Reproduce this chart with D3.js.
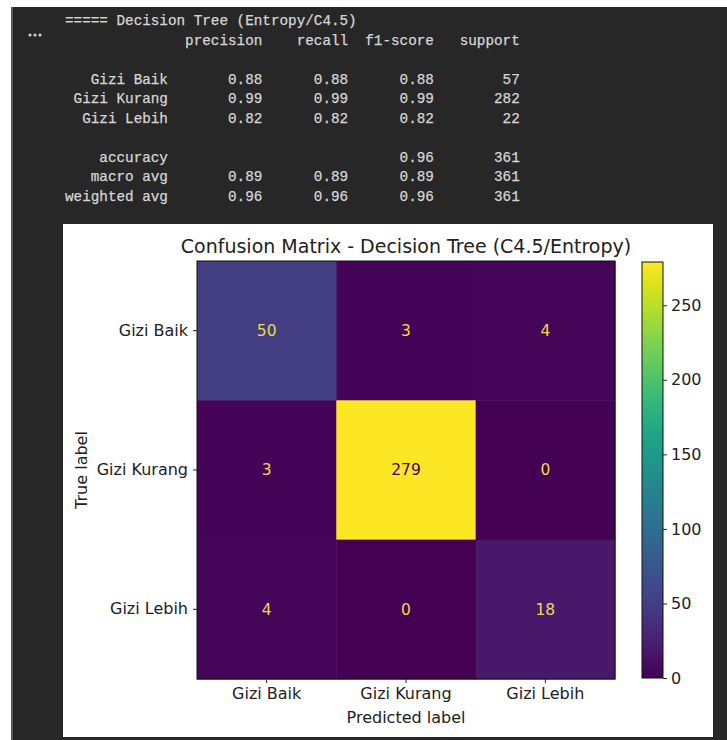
<!DOCTYPE html>
<html>
<head>
<meta charset="utf-8">
<script src="https://cdn.jsdelivr.net/npm/d3@7"></script>
<style>
  body { margin: 0; background: #fff; }
  .mono { font-family: "Liberation Mono", "DejaVu Sans Mono", monospace; white-space: pre; }
  .plt { font-family: "DejaVu Sans", sans-serif; }
</style>
</head>
<body>
<div id="chart"></div>
<script>
// report data
var reportTitle = "===== Decision Tree (Entropy/C4.5)";
var reportLabels = ["Gizi Baik", "Gizi Kurang", "Gizi Lebih"];
var precision = [0.88, 0.99, 0.82];
var recall = [0.88, 0.99, 0.82];
var f1 = [0.88, 0.99, 0.82];
var support = [57, 282, 22];
var accuracy = 0.96, totalSupport = 361;
var macroAvg = [0.89, 0.89, 0.89];
var weightedAvg = [0.96, 0.96, 0.96];

// confusion matrix data
var classes = ["Gizi Baik", "Gizi Kurang", "Gizi Lebih"];
var matrix = [[50, 3, 4], [3, 279, 0], [4, 0, 18]];
var cbTicks = [0, 50, 100, 150, 200, 250];

var W = 727, H = 740;
var svg = d3.select("#chart").append("svg")
  .attr("width", W).attr("height", H);

// notebook output background
svg.append("rect").attr("x", 12).attr("y", 7).attr("width", W - 12).attr("height", H - 7)
  .attr("fill", "#272727");
svg.append("line").attr("x1", 12).attr("x2", 12).attr("y1", 7).attr("y2", H)
  .attr("stroke", "#5a5a5a").attr("stroke-width", 2);

// the "..." marker
svg.append("g").selectAll("circle")
  .data([0, 1, 2]).enter().append("circle")
  .attr("cx", function(d) { return 30 + d * 5; })
  .attr("cy", 35)
  .attr("r", 1.6)
  .attr("fill", "#cfcfcf");

// build the text report like sklearn does
function f2(v) { return v.toFixed(2).padStart(9); }
var width = 12;
var lines = [];
lines.push(reportTitle);
lines.push("".padStart(width) + " " + [" precision", "    recall", "  f1-score", "   support"].join(""));
lines.push("");
reportLabels.forEach(function(l, i) {
  lines.push(l.padStart(width) + " " + " " + f2(precision[i]) + " " + f2(recall[i]) + " " + f2(f1[i]) + " " + String(support[i]).padStart(9));
});
lines.push("");
lines.push("accuracy".padStart(width) + " " + " " + "".padStart(9) + " " + "".padStart(9) + " " + f2(accuracy) + " " + String(totalSupport).padStart(9));
lines.push("macro avg".padStart(width) + " " + " " + f2(macroAvg[0]) + " " + f2(macroAvg[1]) + " " + f2(macroAvg[2]) + " " + String(totalSupport).padStart(9));
lines.push("weighted avg".padStart(width) + " " + " " + f2(weightedAvg[0]) + " " + f2(weightedAvg[1]) + " " + f2(weightedAvg[2]) + " " + String(totalSupport).padStart(9));

svg.append("g").selectAll("text")
  .data(lines).enter().append("text")
  .attr("class", "mono")
  .attr("x", 65)
  .attr("y", function(d, i) { return 25 + i * 19.5; })
  .attr("font-size", 14.3)
  .attr("fill", "#d6d6d6")
  .attr("stroke", "#d6d6d6")
  .attr("stroke-width", 0.25)
  .text(function(d) { return d; });

// white figure panel
svg.append("rect").attr("x", 63).attr("y", 224).attr("width", 650).attr("height", 513)
  .attr("fill", "#ffffff");

// heatmap
var x = d3.scaleBand().domain(classes).range([197, 615]);
var y = d3.scaleBand().domain(classes).range([261, 679]);
var vmax = d3.max(matrix, function(r) { return d3.max(r); });
var vmin = d3.min(matrix, function(r) { return d3.min(r); });
var color = d3.scaleSequential(d3.interpolateViridis).domain([vmin, vmax]);

var cells = [];
matrix.forEach(function(row, i) {
  row.forEach(function(v, j) { cells.push({ t: classes[i], p: classes[j], v: v }); });
});

var plt = svg.append("g").attr("class", "plt");

plt.selectAll("rect.cell")
  .data(cells).enter().append("rect")
  .attr("class", "cell")
  .attr("x", function(d) { return x(d.p); })
  .attr("y", function(d) { return y(d.t); })
  .attr("width", x.bandwidth() + 0.5)
  .attr("height", y.bandwidth() + 0.5)
  .attr("fill", function(d) { return color(d.v); });

var thresh = (vmax + vmin) / 2;
plt.selectAll("text.val")
  .data(cells).enter().append("text")
  .attr("class", "val")
  .attr("x", function(d) { return x(d.p) + x.bandwidth() / 2; })
  .attr("y", function(d) { return y(d.t) + y.bandwidth() / 2; })
  .attr("dy", "0.35em")
  .attr("text-anchor", "middle")
  .attr("font-size", 15.5)
  .attr("fill", function(d) { return d.v > thresh ? d3.interpolateViridis(0) : "#f2d84a"; })
  .text(function(d) { return d.v; });

plt.append("rect").attr("x", 197).attr("y", 261).attr("width", 418).attr("height", 418)
  .attr("fill", "none").attr("stroke", "#111").attr("stroke-width", 1);

var xAxis = plt.append("g").attr("transform", "translate(0,679)")
  .call(d3.axisBottom(x).tickSize(4).tickPadding(5));
var yAxis = plt.append("g").attr("transform", "translate(197,0)")
  .call(d3.axisLeft(y).tickSize(4).tickPadding(5));
[xAxis, yAxis].forEach(function(a) {
  a.select(".domain").remove();
  a.selectAll("text").attr("font-size", 16).attr("fill", "#222").attr("font-family", "DejaVu Sans, sans-serif");
  a.selectAll("line").attr("stroke", "#222");
});

plt.append("text").attr("x", 406).attr("y", 253).attr("text-anchor", "middle")
  .attr("font-size", 19).attr("fill", "#222")
  .text("Confusion Matrix - Decision Tree (C4.5/Entropy)");
plt.append("text").attr("x", 406).attr("y", 723).attr("text-anchor", "middle")
  .attr("font-size", 16).attr("fill", "#222").text("Predicted label");
plt.append("text").attr("transform", "translate(87,470) rotate(-90)").attr("text-anchor", "middle")
  .attr("font-size", 16).attr("fill", "#222").text("True label");

// colorbar
var cb = d3.scaleLinear().domain([vmin, vmax]).range([678, 262]);
var grad = svg.append("defs").append("linearGradient").attr("id", "vir")
  .attr("x1", 0).attr("y1", 1).attr("x2", 0).attr("y2", 0);
d3.range(0, 1.0001, 0.05).forEach(function(t) {
  grad.append("stop").attr("offset", t).attr("stop-color", d3.interpolateViridis(t));
});
plt.append("rect").attr("x", 642).attr("y", cb(vmax)).attr("width", 21).attr("height", cb(vmin) - cb(vmax))
  .attr("fill", "url(#vir)").attr("stroke", "#111").attr("stroke-width", 1);
var cbAxis = plt.append("g").attr("transform", "translate(663,0)")
  .call(d3.axisRight(cb).tickValues(cbTicks).tickSize(4).tickPadding(4));
cbAxis.select(".domain").remove();
cbAxis.selectAll("text").attr("font-size", 16).attr("fill", "#222").attr("font-family", "DejaVu Sans, sans-serif");
cbAxis.selectAll("line").attr("stroke", "#222");
</script>
</body>
</html>
